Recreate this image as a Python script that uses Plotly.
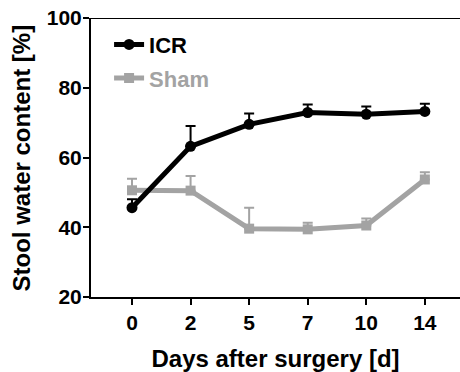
import plotly.graph_objects as go

# Stool water content after ICR vs sham surgery (mean with upper SEM)
days = ["0", "2", "5", "7", "10", "14"]
icr_mean = [45.6, 63.2, 69.5, 72.9, 72.4, 73.2]
icr_upper = [48.0, 69.0, 72.6, 75.2, 74.6, 75.4]
sham_mean = [50.6, 50.5, 39.6, 39.4, 40.5, 53.7]
sham_upper = [53.9, 54.7, 45.6, 41.3, 42.5, 55.8]
y_ticks = [20, 40, 60, 80, 100]
star_day = "10"
star_y = 77.6

BLACK = "#000000"
GRAY = "#a3a3a3"
FONT = "Liberation Sans, Arial, sans-serif"


def err_plus(upper, mean):
    return [u - m for u, m in zip(upper, mean)]


def bold(values):
    return [f"<b>{v}</b>" for v in values]


fig = go.Figure()

fig.add_trace(go.Scatter(
    x=days, y=sham_mean, mode="lines+markers",
    name=f"<span style='color:{GRAY}'><b>Sham</b></span>",
    legendgroup="sham", legendrank=2,
    line=dict(color=GRAY, width=5),
    marker=dict(symbol="square", size=10, color=GRAY),
    error_y=dict(type="data", symmetric=False,
                 array=err_plus(sham_upper, sham_mean),
                 arrayminus=[0] * len(days),
                 color=GRAY, thickness=2, width=5),
))

fig.add_trace(go.Scatter(
    x=days, y=icr_mean, mode="lines+markers",
    name="<b>ICR</b>", legendgroup="icr", legendrank=1,
    line=dict(color=BLACK, width=5),
    marker=dict(symbol="circle", size=11, color=BLACK),
    error_y=dict(type="data", symmetric=False,
                 array=err_plus(icr_upper, icr_mean),
                 arrayminus=[0] * len(days),
                 color=BLACK, thickness=2, width=5),
))

fig.add_annotation(x=star_day, y=star_y, text="<b>*</b>", showarrow=False,
                   font=dict(family=FONT, size=20, color=BLACK))

# y-axis title placed beside the tick labels
fig.add_annotation(xref="paper", yref="paper", x=-0.187, y=0.5,
                   xanchor="center", yanchor="middle", textangle=-90,
                   text="<b>Stool water content [%]</b>", showarrow=False,
                   font=dict(family=FONT, size=24, color=BLACK))

# top frame line
fig.add_shape(type="line", xref="paper", yref="y", x0=0, x1=1, y0=100, y1=100,
              line=dict(color=BLACK, width=2))

tick_font = dict(family=FONT, size=21, color=BLACK)
title_font = dict(family=FONT, size=24, color=BLACK)

fig.update_layout(
    width=460, height=372,
    margin=dict(l=91, r=0, t=18, b=75),
    paper_bgcolor="white", plot_bgcolor="white",
    font=dict(family=FONT, color=BLACK),
    showlegend=True,
    legend=dict(x=0.049, y=0.98, xanchor="left", yanchor="top",
                bgcolor="rgba(0,0,0,0)", traceorder="grouped",
                font=dict(family=FONT, size=22, color=BLACK),
                tracegroupgap=2, itemwidth=30),
    xaxis=dict(
        type="category", categoryorder="array", categoryarray=days,
        tickvals=days, ticktext=bold(days),
        range=[-0.7, 5.6],
        showline=True, linecolor=BLACK, linewidth=2,
        ticks="outside", ticklen=6, tickwidth=2, tickcolor=BLACK,
        showgrid=False, zeroline=False,
        tickfont=tick_font,
        title=dict(text="<b>Days after surgery [d]</b>", font=title_font, standoff=18),
    ),
    yaxis=dict(
        range=[20, 100], tickvals=y_ticks, ticktext=bold(y_ticks),
        showline=True, linecolor=BLACK, linewidth=2,
        ticks="outside", ticklen=6, tickwidth=2, tickcolor=BLACK,
        ticklabelstandoff=-3,
        showgrid=False, zeroline=False,
        tickfont=tick_font,
    ),
)

fig.write_html("out.html")
